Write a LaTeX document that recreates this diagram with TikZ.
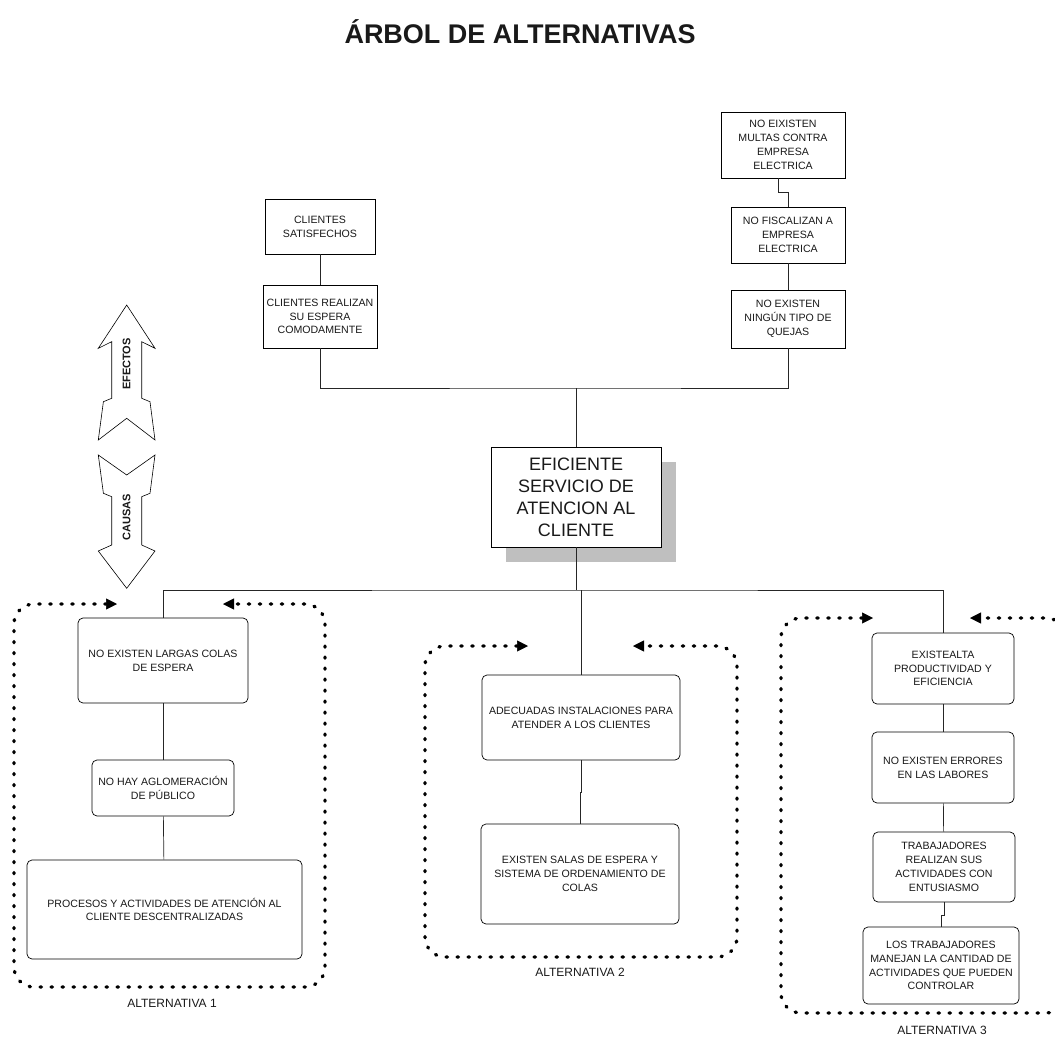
\documentclass[tikz,border=0pt]{standalone}
\usepackage{fontspec}
\setmainfont{Liberation Sans}
\usetikzlibrary{arrows.meta,calc}

\begin{document}
\begin{tikzpicture}[x=1pt,y=-1pt,
  every node/.style={font=\fontsize{10.6}{13.8}\selectfont, align=center, inner sep=1pt, text=black!90},
  sqbox/.style={draw, line width=0.7pt, fill=white},
  rbox/.style={draw, line width=0.7pt, rounded corners=5pt, fill=white},
  link/.style={line width=0.7pt, draw=black!85},
  looppath/.style={line width=3.4pt, dash pattern=on 1.2pt off 9.8pt, line cap=round,
    {Triangle[length=11pt,width=11pt,line width=0.5pt]}-{Triangle[length=11pt,width=11pt,line width=0.5pt]},
    rounded corners=20pt},
  bigarrow/.style={draw, fill=white, line width=0.6pt, line join=miter},
  altlabel/.style={font=\fontsize{12}{14}\selectfont},
  sidelabel/.style={font=\bfseries\fontsize{11}{13}\selectfont, rotate=90},
]
\useasboundingbox (0,0) rectangle (1055,1041);

% title
\node[font=\bfseries\fontsize{27}{30}\selectfont] (title) at (520,32) {ÁRBOL DE ALTERNATIVAS};

% effects, left branch
\node[sqbox, minimum width=110, minimum height=55] (s1) at (320,226.5) {CLIENTES\\SATISFECHOS};
\node[sqbox, minimum width=114, minimum height=63] (s2) at (320,316.5) {CLIENTES REALIZAN\\SU ESPERA\\COMODAMENTE};

% effects, right branch
\node[sqbox, minimum width=124, minimum height=66] (r1) at (783,145) {NO EIXISTEN\\MULTAS CONTRA\\EMPRESA\\ELECTRICA};
\node[sqbox, minimum width=114, minimum height=56] (r2) at (788,235) {NO FISCALIZAN A\\EMPRESA\\ELECTRICA};
\node[sqbox, minimum width=114, minimum height=58] (r3) at (788,319) {NO EXISTEN\\NINGÚN TIPO DE\\QUEJAS};

% central problem with its shadow
\fill[black!25] (506,462) rectangle (676,562);
\node[sqbox, minimum width=170, minimum height=100, font=\fontsize{18}{22}\selectfont] (c) at (576,497)
  {EFICIENTE\\SERVICIO DE\\ATENCION AL\\CLIENTE};

% alternative 1
\node[rbox, minimum width=170, minimum height=85] (a1a) at (163,660.5) {NO EXISTEN LARGAS COLAS\\DE ESPERA};
\node[rbox, minimum width=142, minimum height=56] (a1b) at (163,788) {NO HAY AGLOMERACIÓN\\DE PÚBLICO};
\node[rbox, minimum width=275, minimum height=99] (a1c) at (164.5,909.5) {PROCESOS Y ACTIVIDADES DE ATENCIÓN AL\\CLIENTE DESCENTRALIZADAS};

% alternative 2
\node[rbox, minimum width=198, minimum height=85] (a2a) at (581,717.5) {ADECUADAS INSTALACIONES PARA\\ATENDER A LOS CLIENTES};
\node[rbox, minimum width=198, minimum height=100] (a2b) at (580,874) {EXISTEN SALAS DE ESPERA Y\\SISTEMA DE ORDENAMIENTO DE\\COLAS};

% alternative 3
\node[rbox, minimum width=142, minimum height=71] (a3a) at (943,668.5) {EXISTEALTA\\PRODUCTIVIDAD Y\\EFICIENCIA};
\node[rbox, minimum width=142, minimum height=71] (a3b) at (943,767.5) {NO EXISTEN ERRORES\\EN LAS LABORES};
\node[rbox, minimum width=142, minimum height=70] (a3c) at (944,867) {TRABAJADORES\\REALIZAN SUS\\ACTIVIDADES CON\\ENTUSIASMO};
\node[rbox, minimum width=156, minimum height=77] (a3d) at (941,965.5) {LOS TRABAJADORES\\MANEJAN LA CANTIDAD DE\\ACTIVIDADES QUE PUEDEN\\CONTROLAR};

% labels of the alternatives
\node[altlabel] (l1) at (172,1003) {ALTERNATIVA 1};
\node[altlabel] (l2) at (580,972) {ALTERNATIVA 2};
\node[altlabel] (l3) at (942,1030) {ALTERNATIVA 3};

% junction points
\coordinate (jt) at (576,388);
\coordinate (jb) at (576,590);

% upper tree
\draw[link] (s1) -- (s2);
\draw[link] ([xshift=-5]r1.south) -- ++(0,14) -| (r2.north);
\draw[link] (r2) -- (r3);
\draw[link] (s2.south) |- (jt) -| (r3.south);
\draw[link] (jt) -- (c.north);

% lower tree
\draw[link] (c.south) -- (jb);
\draw[link] (a1a.north) |- (jb) -| (a3a.north);
\draw[link] (a2a.north) -- (a2a.north |- jb);
\draw[link] (a1a) -- (a1b);
\draw[link] (a1b) -- (a1c);
\draw[link] (a2a.south) -- ++(0,32) -| (a2b.north);
\draw[link] (a3a) -- (a3b);
\draw[link] (a3b) -- (a3c);
\draw[link] (a3c.south) -- ++(0,13) -| (a3d.north);

% dotted loops around the alternatives
\draw[looppath] (117,604) -- (14,604) -- (14,987) -- (325,987) -- (325,604) -- (223,604);
\draw[looppath] (528,646) -- (425,646) -- (425,957) -- (737,957) -- (737,646) -- (633,646);
\draw[looppath] (873,618) -- (781,618) -- (781,1013) -- (1066,1013) -- (1066,618) -- (970,618);

% effects / causes arrows
\draw[bigarrow] (126.7,305) -- (155,348.3) -- (141.7,341.7) -- (141.7,398.3) -- (150,401.7)
  -- (155,440) -- (126.7,418.3) -- (98.3,440) -- (103.4,401.7) -- (111.7,398.3)
  -- (111.7,341.7) -- (98.3,348.3) -- cycle;
\draw[bigarrow] (98.3,455) -- (126.7,475) -- (155,455) -- (150,493.3) -- (141.7,496.7)
  -- (141.7,545) -- (155,551) -- (126.7,588.3) -- (98.3,551) -- (111.7,545)
  -- (111.7,496.7) -- (103.4,493.3) -- cycle;
\node[sidelabel] (ef) at (126.7,364) {EFECTOS};
\node[sidelabel] (ca) at (126.7,517) {CAUSAS};
\end{tikzpicture}
\end{document}
